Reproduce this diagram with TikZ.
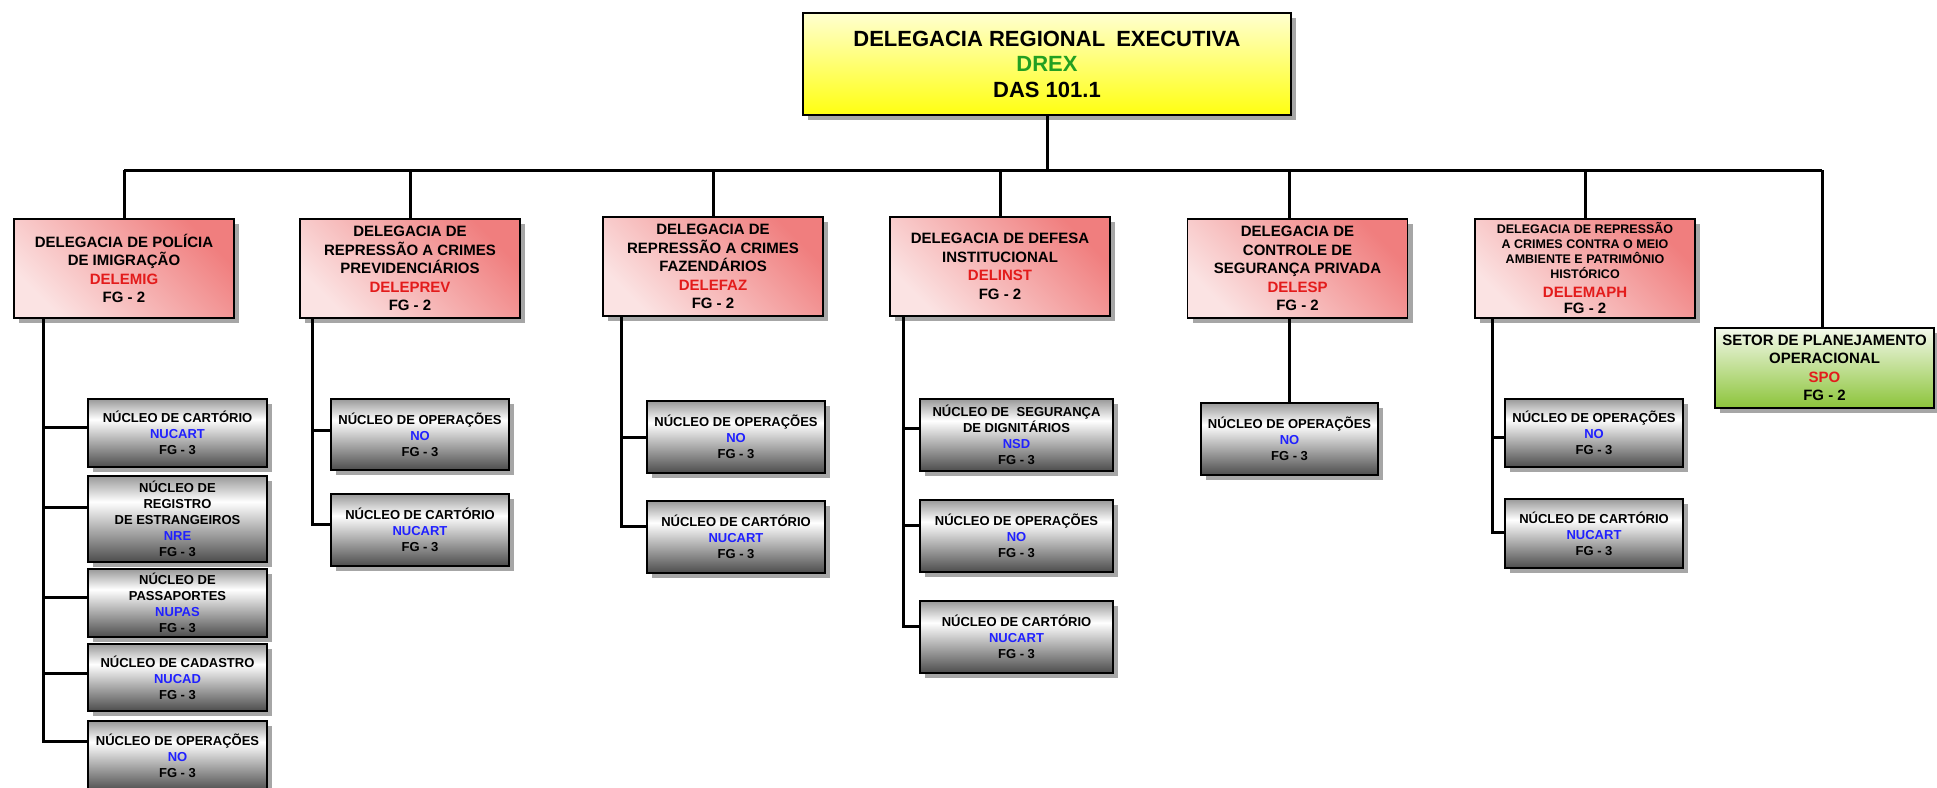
\documentclass[tikz,border=0pt]{standalone}
\usepackage{fontspec}
\setmainfont{Liberation Sans}
\usetikzlibrary{shadows}
\definecolor{salmon}{HTML}{F07E7E}
\definecolor{pinklt}{HTML}{FBE3E3}
\definecolor{redtxt}{HTML}{E31B1B}
\definecolor{bluetxt}{HTML}{2020FF}
\definecolor{greentxt}{HTML}{22A022}
\definecolor{yellowlt}{HTML}{FFFFD0}
\definecolor{yellowdk}{HTML}{FFFF10}
\definecolor{greendk}{HTML}{8CC43A}
\definecolor{greenlt}{HTML}{F4F9EC}
\pgfdeclareverticalshading{nucshade}{100bp}{color(0bp)=(black!70); color(25bp)=(black!70); color(60bp)=(white); color(75bp)=(black!40); color(100bp)=(black!40)}
\tikzset{
  box/.style={draw=black, line width=1.5pt, align=center, inner sep=0pt,
    drop shadow={shadow xshift=5pt, shadow yshift=-5pt, fill=black, opacity=0.35}},
  topbox/.style={box, top color=yellowlt, bottom color=yellowdk,
    font=\fontsize{22}{25.5}\selectfont\bfseries},
  delbox/.style={box, top color=salmon, bottom color=pinklt, shading angle=-45,
    font=\fontsize{15}{18.5}\selectfont\bfseries, minimum width=220pt, minimum height=99pt},
  spobox/.style={box, top color=greenlt, bottom color=greendk,
    font=\fontsize{15}{18.5}\selectfont\bfseries},
  nucbox/.style={box, shade, shading=nucshade,
    font=\fontsize{13}{16}\selectfont\bfseries},
  conn/.style={draw=black, line width=3pt}
}
\newcommand{\rd}[1]{{\color{redtxt}#1}}
\newcommand{\bl}[1]{{\color{bluetxt}#1}}
\newcommand{\sm}[1]{{\fontsize{12.5}{14.5}\selectfont #1}}
\begin{document}
\begin{tikzpicture}[x=1pt,y=-1pt]
\useasboundingbox (0,0) rectangle (1937,787);
\fill[white] (0,0) rectangle (1937,787);
\clip (0,0) rectangle (1937,787);

% top
\node[topbox, minimum width=488pt, minimum height=102pt] (top) at (1047,64)
  {DELEGACIA REGIONAL\hspace{5pt} EXECUTIVA\\{\color{greentxt}DREX}\\DAS 101.1};

% level 2
\node[delbox] (b1) at (124,268.5) {DELEGACIA DE POLÍCIA\\DE IMIGRAÇÃO\\\rd{DELEMIG}\\FG - 2};
\node[delbox] (b2) at (410,268.5) {DELEGACIA DE\\REPRESSÃO A CRIMES\\PREVIDENCIÁRIOS\\\rd{DELEPREV}\\FG - 2};
\node[delbox] (b3) at (713,266.5) {DELEGACIA DE\\REPRESSÃO A CRIMES\\FAZENDÁRIOS\\\rd{DELEFAZ}\\FG - 2};
\node[delbox] (b4) at (1000,266.5) {DELEGACIA DE DEFESA\\INSTITUCIONAL\\\rd{DELINST}\\FG - 2};
\node[delbox] (b5) at (1297.5,268.5) {DELEGACIA DE\\CONTROLE DE\\SEGURANÇA PRIVADA\\\rd{DELESP}\\FG - 2};
\node[delbox] (b6) at (1585,268.5) {\sm{DELEGACIA DE REPRESSÃO}\\[-3.5pt]\sm{A CRIMES CONTRA O MEIO}\\[-3.5pt]\sm{AMBIENTE E PATRIMÔNIO}\\[-3.5pt]\sm{HISTÓRICO}\\\rd{DELEMAPH}\\[-2pt]FG - 2};
\node[spobox, minimum width=219pt, minimum height=80pt] (b7) at (1824.5,368) {SETOR DE PLANEJAMENTO\\OPERACIONAL\\\rd{SPO}\\FG - 2};

% level 3
\node[nucbox, minimum width=179pt, minimum height=68pt] (c1a) at (177.5,433) {NÚCLEO DE CARTÓRIO\\\bl{NUCART}\\FG - 3};
\node[nucbox, minimum width=179pt, minimum height=86pt] (c1b) at (177.5,519) {NÚCLEO DE\\REGISTRO\\DE ESTRANGEIROS\\\bl{NRE}\\FG - 3};
\node[nucbox, minimum width=179pt, minimum height=68pt] (c1c) at (177.5,603) {NÚCLEO DE\\PASSAPORTES\\\bl{NUPAS}\\FG - 3};
\node[nucbox, minimum width=179pt, minimum height=67pt] (c1d) at (177.5,677.5) {NÚCLEO DE CADASTRO\\\bl{NUCAD}\\FG - 3};
\node[nucbox, minimum width=179pt, minimum height=70pt] (c1e) at (177.5,756) {NÚCLEO DE OPERAÇÕES\\\bl{NO}\\FG - 3};

\node[nucbox, minimum width=178pt, minimum height=71pt] (c2a) at (420,434.5) {NÚCLEO DE OPERAÇÕES\\\bl{NO}\\FG - 3};
\node[nucbox, minimum width=178pt, minimum height=72pt] (c2b) at (420,530) {NÚCLEO DE CARTÓRIO\\\bl{NUCART}\\FG - 3};

\node[nucbox, minimum width=178pt, minimum height=72pt] (c3a) at (736,437) {NÚCLEO DE OPERAÇÕES\\\bl{NO}\\FG - 3};
\node[nucbox, minimum width=178pt, minimum height=72pt] (c3b) at (736,537) {NÚCLEO DE CARTÓRIO\\\bl{NUCART}\\FG - 3};

\node[nucbox, minimum width=193pt, minimum height=72pt] (c4a) at (1016.5,435) {NÚCLEO DE\hspace{4pt} SEGURANÇA\\DE DIGNITÁRIOS\\\bl{NSD}\\FG - 3};
\node[nucbox, minimum width=193pt, minimum height=72pt] (c4b) at (1016.5,536) {NÚCLEO DE OPERAÇÕES\\\bl{NO}\\FG - 3};
\node[nucbox, minimum width=193pt, minimum height=72pt] (c4c) at (1016.5,637) {NÚCLEO DE CARTÓRIO\\\bl{NUCART}\\FG - 3};

\node[nucbox, minimum width=177pt, minimum height=72pt] (c5) at (1289.5,439) {NÚCLEO DE OPERAÇÕES\\\bl{NO}\\FG - 3};

\node[nucbox, minimum width=178pt, minimum height=68pt] (c6a) at (1594,433) {NÚCLEO DE OPERAÇÕES\\\bl{NO}\\FG - 3};
\node[nucbox, minimum width=178pt, minimum height=69pt] (c6b) at (1594,533.5) {NÚCLEO DE CARTÓRIO\\\bl{NUCART}\\FG - 3};

% connectors
\coordinate (bus) at (0,170);
\coordinate (busR) at (1822,170);
\draw[conn] (top.south) -- (top.south |- bus);
\draw[conn] (b1.north |- bus) -- (busR);
\draw[conn] (b1.north) -- (b1.north |- bus);
\draw[conn] (b2.north) -- (b2.north |- bus);
\draw[conn] (b3.north) -- (b3.north |- bus);
\draw[conn] (b4.north) -- (b4.north |- bus);
\draw[conn] (b5.north -| c5.north) -- (c5.north |- bus);
\draw[conn] (b6.north) -- (b6.north |- bus);
\draw[conn] (busR) -- (busR |- b7.north);

\coordinate (v1) at (43,0);
\coordinate (v2) at (312,0);
\coordinate (v3) at (621,0);
\coordinate (v4) at (903,0);
\coordinate (v6) at (1492,0);

\draw[conn] (b1.south -| v1) |- ([yshift=6pt]c1a.west);
\draw[conn] (b1.south -| v1) |- ([yshift=12pt]c1b.west);
\draw[conn] (b1.south -| v1) |- ([yshift=6pt]c1c.west);
\draw[conn] (b1.south -| v1) |- ([yshift=4.5pt]c1d.west);
\draw[conn] (b1.south -| v1) |- ([yshift=15pt]c1e.west);

\draw[conn] (b2.south -| v2) |- ([yshift=4.5pt]c2a.west);
\draw[conn] (b2.south -| v2) |- ([yshift=6pt]c2b.west);

\draw[conn] (b3.south -| v3) |- (c3a.west);
\draw[conn] (b3.south -| v3) |- ([yshift=11pt]c3b.west);

\draw[conn] (b4.south -| v4) |- ([yshift=7pt]c4a.west);
\draw[conn] (b4.south -| v4) |- ([yshift=11pt]c4b.west);
\draw[conn] (b4.south -| v4) |- ([yshift=11pt]c4c.west);

\draw[conn] (b5.south -| c5.north) -- (c5.north);

\draw[conn] (b6.south -| v6) |- ([yshift=-4pt]c6a.west);
\draw[conn] (b6.south -| v6) |- ([yshift=1.5pt]c6b.west);
\end{tikzpicture}
\end{document}
